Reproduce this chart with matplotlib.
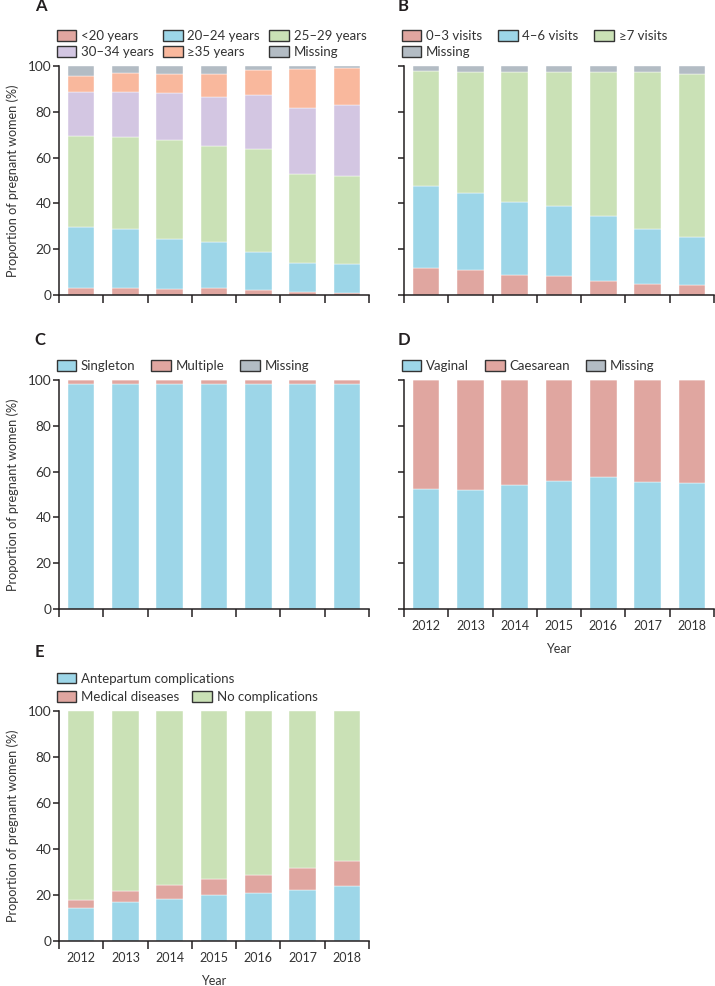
import matplotlib
matplotlib.use("Agg")
from matplotlib import pyplot as plt
from matplotlib.patches import Patch
import numpy as np

plt.rcParams["font.family"] = ["Lato", "DejaVu Sans"]

years = ["2012", "2013", "2014", "2015", "2016", "2017", "2018"]

# A: maternal age (%)
age_labels = ["<20 years", "20–24 years", "25–29 years", "30–34 years", "≥35 years", "Missing"]
age_lt20 = [3.2, 3.2, 2.6, 2.9, 2.2, 1.5, 1.0]
age_20_24 = [26.5, 25.6, 21.9, 20.4, 16.6, 12.6, 12.4]
age_25_29 = [39.7, 40.1, 43.3, 41.9, 44.8, 38.9, 38.7]
age_30_34 = [19.1, 19.9, 20.4, 21.4, 23.7, 28.8, 30.9]
age_ge35 = [7.3, 8.3, 8.5, 10.1, 11.0, 16.9, 16.3]
age_missing = [4.2, 2.9, 3.3, 3.3, 1.7, 1.3, 0.7]

# B: antenatal visits (%)
visit_labels = ["0–3 visits", "4–6 visits", "≥7 visits", "Missing"]
visit_0_3 = [11.9, 10.9, 8.7, 8.3, 6.3, 5.0, 4.2]
visit_4_6 = [35.7, 33.8, 31.8, 30.7, 28.3, 23.8, 21.3]
visit_ge7 = [50.3, 52.5, 56.7, 58.2, 62.6, 68.4, 70.9]
visit_missing = [2.1, 2.8, 2.8, 2.8, 2.8, 2.8, 3.6]

# C: plurality (%)
plural_labels = ["Singleton", "Multiple", "Missing"]
singleton = [98.4, 98.3, 98.2, 98.1, 98.2, 98.1, 98.1]
multiple = [1.6, 1.7, 1.8, 1.9, 1.8, 1.9, 1.9]
plural_missing = [0.0, 0.0, 0.0, 0.0, 0.0, 0.0, 0.0]

# D: mode of delivery (%)
delivery_labels = ["Vaginal", "Caesarean", "Missing"]
vaginal = [52.4, 52.0, 54.3, 56.0, 57.6, 55.6, 55.0]
caesarean = [47.6, 48.0, 45.7, 44.0, 42.4, 44.4, 45.0]
delivery_missing = [0.0, 0.0, 0.0, 0.0, 0.0, 0.0, 0.0]

# E: complications (%)
comp_labels = ["Antepartum complications", "Medical diseases", "No complications"]
antepartum = [14.4, 17.0, 18.4, 19.9, 20.8, 22.2, 23.8]
medical = [3.3, 4.8, 5.8, 7.0, 7.8, 9.4, 11.2]
no_comp = [82.3, 78.2, 75.8, 73.1, 71.4, 68.4, 65.0]

PINK = "#e0a6a0"
BLUE = "#9dd6e8"
GREEN = "#cae1b6"
PURPLE = "#d3c6e2"
ORANGE = "#f9b89d"
GREY = "#b3bcc4"
INK = "#231f20"
TXT = "#333333"

W, H = 715, 986
fig = plt.figure(figsize=(W / 100, H / 100), dpi=100)


def make_ax(left, top, bottom, width=310):
    return fig.add_axes([left / W, 1 - bottom / H, width / W, (bottom - top) / H])


def add_legend(ax, colors, labels, ncol, y, spacing):
    handles = [Patch(facecolor=c, edgecolor=TXT, linewidth=1.0) for c in colors]
    # matplotlib fills legend columns first; reorder so entries read row by row
    order = [i for j in range(ncol) for i in range(j, len(labels), ncol)]
    leg = ax.legend([handles[i] for i in order], [labels[i] for i in order], ncol=ncol,
                    loc="lower left", bbox_to_anchor=(-0.008, y), frameon=False,
                    fontsize=9.5, handlelength=1.5, handleheight=0.85,
                    handletextpad=0.35, columnspacing=spacing, labelspacing=0.3,
                    borderaxespad=0, borderpad=0, labelcolor=TXT)
    return leg


def panel(ax, series, colors, letter, letter_pos, show_x, ylabel=True):
    x = np.arange(len(years))
    base = np.zeros(len(years))
    for vals, c in zip(series, colors):
        ax.bar(x, vals, bottom=base, width=0.6, color=c, edgecolor="white", linewidth=0.3)
        base += np.array(vals)
    ax.set_xlim(-0.5, 6.5)
    ax.set_ylim(0, 100)
    ax.set_yticks([0, 20, 40, 60, 80, 100])
    for s in ["top", "right"]:
        ax.spines[s].set_visible(False)
    for s in ["left", "bottom"]:
        ax.spines[s].set_linewidth(1.1)
        ax.spines[s].set_color(INK)
    ax.set_xticks(x)
    ax.set_xticks(np.arange(-0.5, 7.0, 1.0), minor=True)
    ax.tick_params(axis="x", which="major", length=0, labelsize=9, colors=TXT, pad=8)
    ax.tick_params(axis="x", which="minor", length=5.5, width=1.1, color=INK)
    ax.tick_params(axis="y", length=4.0, width=1.1, color=INK, labelsize=9.8, labelcolor=TXT, pad=1.5)
    if show_x:
        ax.set_xticklabels(years)
        ax.set_xlabel("Year", fontsize=9, color=TXT, labelpad=8)
    else:
        ax.set_xticklabels([])
    if ylabel:
        ax.set_ylabel("Proportion of pregnant women (%)", fontsize=9.1, color=TXT, labelpad=6)
    else:
        ax.set_yticklabels([])
    ax.text(letter_pos[0], letter_pos[1], letter, transform=ax.transAxes, fontsize=12,
            fontweight="bold", color=INK, ha="left", va="bottom")
    return ax


axA = make_ax(59, 66, 295)
panel(axA, [age_lt20, age_20_24, age_25_29, age_30_34, age_ge35, age_missing],
      [PINK, BLUE, GREEN, PURPLE, ORANGE, GREY], "A", (-0.078, 1.225), False)
add_legend(axA, [PINK, BLUE, GREEN, PURPLE, ORANGE, GREY], age_labels, 3, 1.035, 0.7)

axB = make_ax(404, 66, 295)
panel(axB, [visit_0_3, visit_4_6, visit_ge7, visit_missing],
      [PINK, BLUE, GREEN, GREY], "B", (-0.022, 1.225), False, ylabel=False)
add_legend(axB, [PINK, BLUE, GREEN, GREY], visit_labels, 3, 1.035, 1.2)

axC = make_ax(59, 380, 609)
panel(axC, [singleton, multiple, plural_missing], [BLUE, PINK, GREY], "C",
      (-0.078, 1.14), False)
add_legend(axC, [BLUE, PINK, GREY], plural_labels, 3, 1.035, 1.2)

axD = make_ax(404, 380, 609)
panel(axD, [vaginal, caesarean, delivery_missing], [BLUE, PINK, GREY], "D",
      (-0.022, 1.14), True, ylabel=False)
add_legend(axD, [BLUE, PINK, GREY], delivery_labels, 3, 1.035, 1.2)

axE = make_ax(59, 711, 941)
panel(axE, [antepartum, medical, no_comp], [BLUE, PINK, GREEN], "E", (-0.078, 1.22), True)
legE1 = add_legend(axE, [BLUE], comp_labels[:1], 1, 1.115, 1.0)
axE.add_artist(legE1)
add_legend(axE, [PINK, GREEN], comp_labels[1:], 2, 1.035, 1.0)

fig.savefig("out.png", dpi=100)
